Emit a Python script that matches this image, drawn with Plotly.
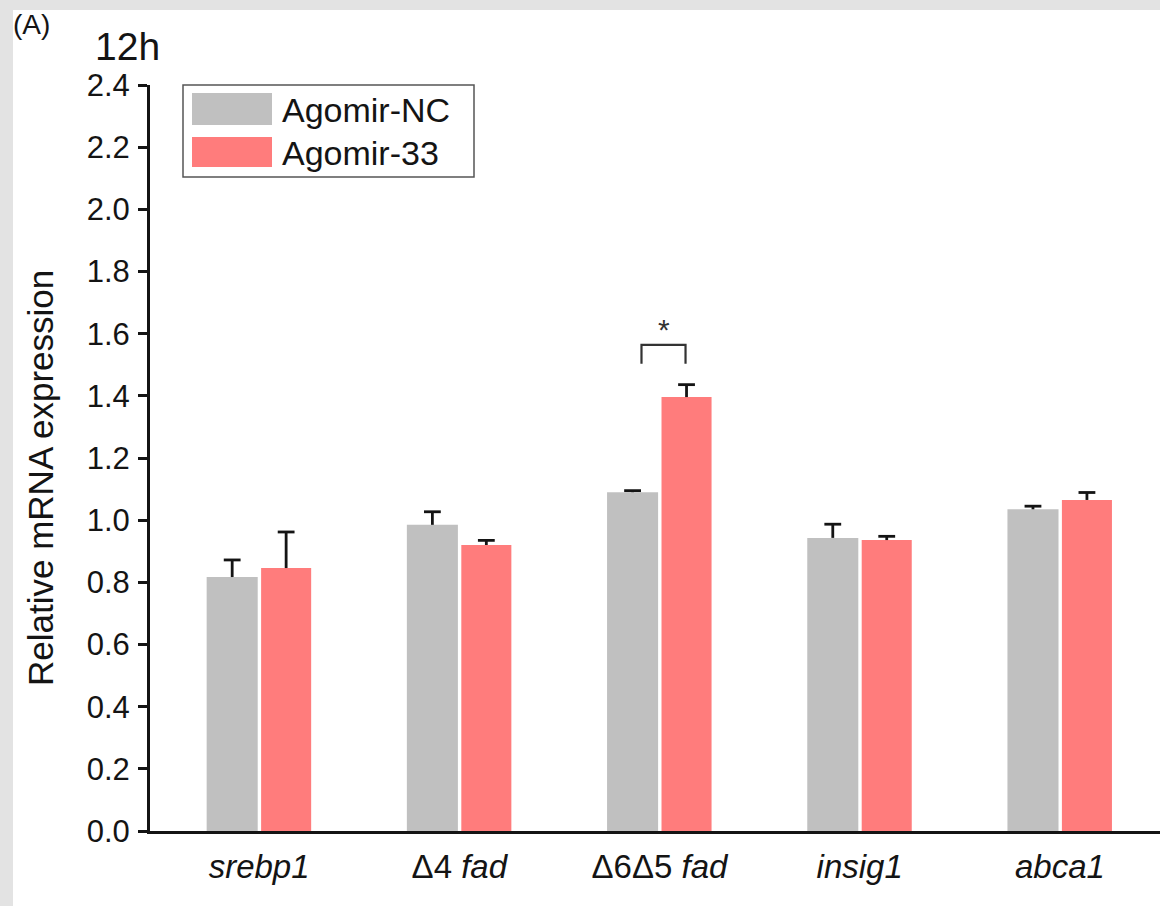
import plotly.graph_objects as go

genes = ["<i>srebp1</i>", "Δ4 <i>fad</i>", "Δ6Δ5 <i>fad</i>", "<i>insig1</i>", "<i>abca1</i>"]
nc_vals = [0.817, 0.985, 1.090, 0.943, 1.035]
nc_err = [0.055, 0.042, 0.005, 0.044, 0.010]
a33_vals = [0.846, 0.920, 1.396, 0.936, 1.065]
a33_err = [0.116, 0.015, 0.040, 0.012, 0.024]
series_names = ["Agomir-NC", "Agomir-33"]
y_ticks = [0.0, 0.2, 0.4, 0.6, 0.8, 1.0, 1.2, 1.4, 1.6, 1.8, 2.0, 2.2, 2.4]

FONT = "Arial, Liberation Sans, sans-serif"
GRAY = "#c0c0c0"
RED = "#ff7c7c"
INK = "#141414"

W, H = 1160, 906
ML, MT, MB = 150, 85, 75
PW, PH = W - ML, H - MT - MB


def px(x):
    return (x - ML) / PW


def py(y):
    return (H - MB - y) / PH


xs = list(range(len(genes)))
bar_specs = [
    (series_names[0], nc_vals, nc_err, GRAY, -0.262, 0.255),
    (series_names[1], a33_vals, a33_err, RED, 0.010, 0.250),
]

fig = go.Figure()
for name, vals, errs, color, off, wid in bar_specs:
    fig.add_trace(go.Bar(
        x=xs, y=vals, name=name, marker=dict(color=color, line=dict(width=0)),
        width=wid, offset=off, showlegend=False, hoverinfo="x+y",
    ))
# error bars (upper only, T-shaped)
cap = 0.042
for name, vals, errs, color, off, wid in bar_specs:
    ex, ey = [], []
    for xi, v, e in zip(xs, vals, errs):
        xc = xi + off + wid / 2
        ex += [xc, xc, None, xc - cap, xc + cap, None]
        ey += [v, v + e, None, v + e, v + e, None]
    fig.add_trace(go.Scatter(x=ex, y=ey, mode="lines", line=dict(color=INK, width=2.8),
                             showlegend=False, hoverinfo="skip"))

# significance bracket over Δ6Δ5 fad
fig.add_trace(go.Scatter(
    x=[1.91, 1.91, 2.13, 2.13], y=[1.503, 1.564, 1.564, 1.503], mode="lines",
    line=dict(color="#333333", width=2.2), showlegend=False, hoverinfo="skip",
))
fig.add_annotation(x=2.02, y=1.612, text="*", showarrow=False,
                   font=dict(family=FONT, size=30, color="#333333"), yanchor="middle")

# outer gray frame strips
fig.add_shape(type="rect", xref="paper", yref="paper", x0=px(0), x1=px(13),
              y0=py(H), y1=py(0), fillcolor="#e3e3e3", line=dict(width=0), layer="below")
fig.add_shape(type="rect", xref="paper", yref="paper", x0=px(0), x1=px(W),
              y0=py(10), y1=py(0), fillcolor="#e3e3e3", line=dict(width=0), layer="below")

# legend drawn as boxes + text
fig.add_shape(type="rect", xref="paper", yref="paper", x0=px(183), x1=px(474),
              y0=py(177), y1=py(85), fillcolor="white", line=dict(color="#555555", width=1.5))
fig.add_shape(type="rect", xref="paper", yref="paper", x0=px(192), x1=px(272),
              y0=py(125), y1=py(93), fillcolor=GRAY, line=dict(width=0))
fig.add_shape(type="rect", xref="paper", yref="paper", x0=px(192), x1=px(272),
              y0=py(167), y1=py(137), fillcolor=RED, line=dict(width=0))
for name, yc in zip(series_names, [110, 153]):
    fig.add_annotation(xref="paper", yref="paper", x=px(280), y=py(yc), text=name,
                       showarrow=False, xanchor="left", yanchor="middle",
                       font=dict(family=FONT, size=34, color=INK))

fig.add_annotation(xref="paper", yref="paper", x=px(11), y=py(24), text="(A)",
                   showarrow=False, xanchor="left", yanchor="middle",
                   font=dict(family=FONT, size=28, color=INK))
fig.add_annotation(xref="paper", yref="paper", x=px(93), y=py(46), text="12h",
                   showarrow=False, xanchor="left", yanchor="middle",
                   font=dict(family=FONT, size=39, color=INK))
fig.add_annotation(xref="paper", yref="paper", x=px(40), y=py(478), text="Relative mRNA expression",
                   showarrow=False, xanchor="center", yanchor="middle", textangle=-90,
                   font=dict(family=FONT, size=35, color=INK))

fig.update_layout(
    width=W, height=H,
    margin=dict(l=ML, r=0, t=MT, b=MB),
    paper_bgcolor="white", plot_bgcolor="white",
    font=dict(family=FONT, size=31, color=INK),
    showlegend=False,
)
fig.update_xaxes(
    range=[-0.545, 4.5], tickmode="array", tickvals=xs, ticktext=genes,
    showline=True, linecolor=INK, linewidth=3, ticks="", showgrid=False,
    zeroline=False, tickfont=dict(family=FONT, size=33, color=INK), ticklabelstandoff=4,
)
fig.update_yaxes(
    range=[0, 2.4], tickmode="array", tickvals=y_ticks, ticktext=[f"{v:.1f}" for v in y_ticks],
    showline=True, linecolor=INK, linewidth=3, ticks="outside", ticklen=9,
    tickwidth=2.5, tickcolor=INK, showgrid=False, zeroline=False,
    tickfont=dict(family=FONT, size=31, color=INK), ticklabelstandoff=2,
)

fig.write_html("out.html", config={"displayModeBar": False},
               post_script="document.body.style.margin='0';")
